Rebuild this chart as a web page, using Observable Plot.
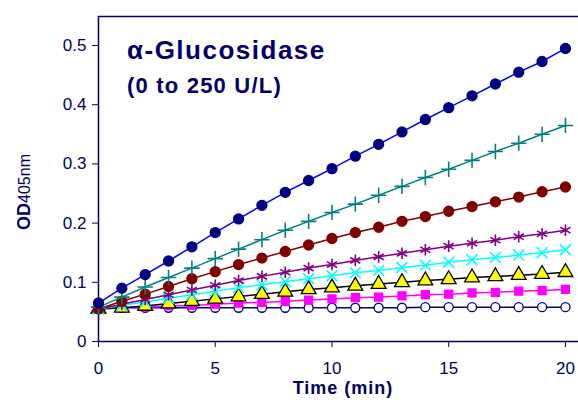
<!DOCTYPE html><html><head><meta charset="utf-8">
<script src="https://cdn.jsdelivr.net/npm/d3@7"></script>
<script src="https://cdn.jsdelivr.net/npm/@observablehq/plot@0.6"></script>
<style>body{margin:0;background:#fff}</style></head><body><div id="c"></div>
<script>
const minutes = d3.range(0,21);
const s250 = [0.065,0.09,0.113,0.136,0.16,0.184,0.207,0.23,0.252,0.272,0.292,0.313,0.333,0.354,0.375,0.395,0.415,0.435,0.455,0.473,0.495];
const s125 = [0.058,0.075,0.092,0.108,0.124,0.14,0.156,0.172,0.188,0.203,0.218,0.232,0.247,0.262,0.277,0.291,0.306,0.321,0.335,0.35,0.365];
const s62 = [0.055,0.068,0.08,0.093,0.106,0.118,0.13,0.141,0.152,0.163,0.174,0.184,0.193,0.203,0.211,0.22,0.228,0.236,0.244,0.253,0.261];
const s31 = [0.055,0.063,0.071,0.079,0.087,0.095,0.103,0.11,0.117,0.124,0.13,0.137,0.143,0.149,0.155,0.161,0.166,0.171,0.177,0.182,0.188];
const s16 = [0.055,0.061,0.067,0.073,0.079,0.085,0.091,0.096,0.101,0.106,0.111,0.116,0.12,0.125,0.129,0.134,0.138,0.142,0.146,0.15,0.155];
const s8 = [0.055,0.057,0.06,0.064,0.068,0.072,0.076,0.08,0.084,0.088,0.091,0.094,0.097,0.1,0.103,0.105,0.108,0.11,0.112,0.114,0.117];
const s4 = [0.055,0.057,0.058,0.06,0.061,0.063,0.065,0.066,0.068,0.07,0.072,0.074,0.075,0.077,0.079,0.08,0.082,0.083,0.085,0.086,0.088];
const s0 = [0.057,0.057,0.057,0.057,0.057,0.057,0.057,0.057,0.057,0.057,0.057,0.057,0.057,0.057,0.058,0.058,0.058,0.058,0.058,0.058,0.058];
const xTicks = [0,5,10,15,20];
const yTicks = [0,0.1,0.2,0.3,0.4,0.5];
const series = [
 {v:s0, line:"#000080", sym:"circle", fill:"white", stroke:"#000080", r:4.5},
 {v:s4, line:"#ff00ff", sym:"square", fill:"#ff00ff", stroke:"#ff00ff", r:4.5},
 {v:s8, line:"#000000", sym:"triangle", fill:"#ffff00", stroke:"#000000", r:5.5},
 {v:s16, line:"#00ffff", sym:"times", fill:"none", stroke:"#00ffff", r:5},
 {v:s31, line:"#800080", sym:"asterisk", fill:"none", stroke:"#800080", r:5.5},
 {v:s62, line:"#800000", sym:"circle", fill:"#800000", stroke:"#800000", r:5},
 {v:s125, line:"#008080", sym:"plus", fill:"none", stroke:"#008080", r:5},
 {v:s250, line:"#0000ff", sym:"circle", fill:"#000080", stroke:"#000080", r:5},
];
const marks = [];
for (const s of series) {
  const d = minutes.map((m,i)=>({m, v:s.v[i]}));
  marks.push(Plot.line(d,{x:"m",y:"v",stroke:s.line,strokeWidth:1.5}));
  marks.push(Plot.dot(d,{x:"m",y:"v",symbol:()=>s.sym,fill:s.fill,stroke:s.stroke,r:s.r,strokeWidth:s.fill==="none"?1.6:1.3}));
}
const navy="#000066";
const p = Plot.plot({
  width:578,height:403,marginLeft:98,marginRight:0,marginTop:16,marginBottom:62,
  style:{fontFamily:"Liberation Sans, Arial, sans-serif",fontSize:"17px",color:navy},
  x:{domain:[0,20.56],label:null},
  y:{domain:[0,0.549],label:null},
  marks:[
    Plot.frame({anchor:"top",stroke:navy,strokeWidth:1.5}),
    Plot.ruleX([0],{stroke:navy,strokeWidth:1.5}),
    Plot.ruleY([0],{stroke:navy,strokeWidth:1.5}),
    ...marks,
    Plot.axisX({ticks:xTicks,tickSize:6,stroke:navy,fill:navy,fontSize:17,tickPadding:14,label:null}),
    Plot.axisY({ticks:yTicks,tickSize:6,stroke:navy,fill:navy,fontSize:17,tickPadding:6,tickFormat:d=>d===0?"0":d3.format(".1f")(d),label:null})
  ]
});
const svg=d3.select(p);
svg.append("text").attr("x",127).attr("y",59).attr("text-anchor","start").attr("fill",navy).attr("font-weight","bold").attr("font-size",26).attr("letter-spacing",1.5).text("α-Glucosidase");
svg.append("text").attr("x",127).attr("y",93).attr("text-anchor","start").attr("fill",navy).attr("font-weight","bold").attr("font-size",22).attr("letter-spacing",1.2).text("(0 to 250 U/L)");
svg.append("text").attr("x",343).attr("y",394).attr("text-anchor","middle").attr("fill",navy).attr("font-weight","bold").attr("font-size",18).attr("letter-spacing",1).text("Time (min)");
const yl=svg.append("text").attr("transform","translate(30,192) rotate(-90)").attr("text-anchor","middle").attr("fill",navy).attr("font-size",16);
yl.append("tspan").attr("font-weight","bold").attr("font-size",18).text("OD");
yl.append("tspan").text("405nm");
document.getElementById("c").append(p);
</script></body></html>
